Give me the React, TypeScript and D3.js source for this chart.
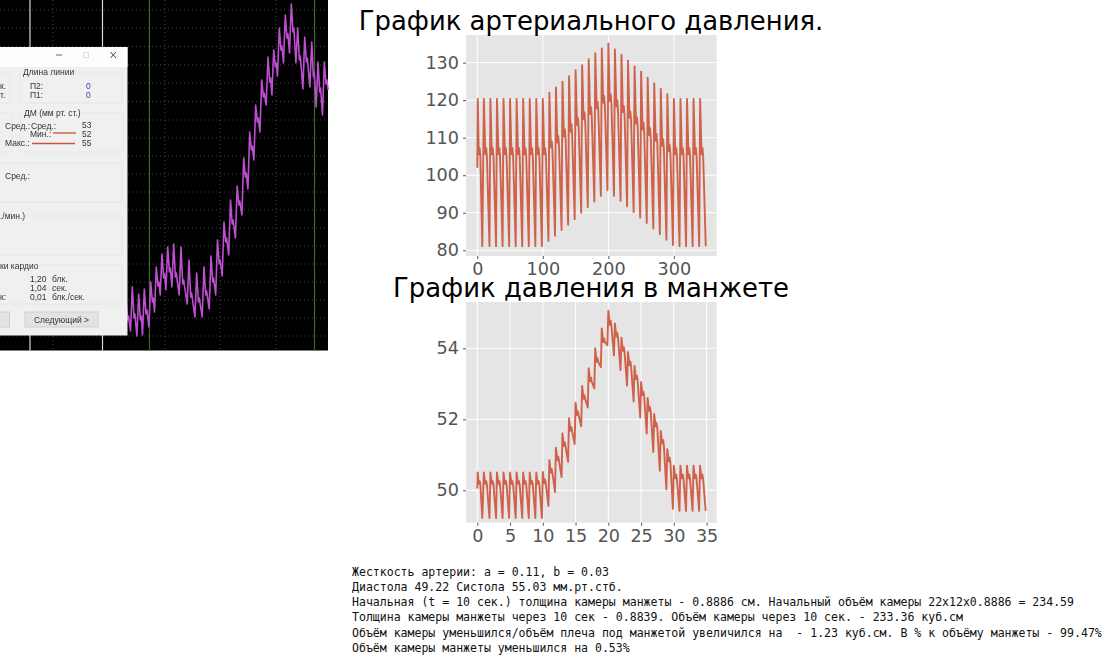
import React, { useEffect, useRef } from "react";
import * as d3 from "d3";

// ---------- Artery pressure chart (per-beat levels, one beat every 10 samples)
const arterySystole = [
  120.3, 120.3, 120.3, 120.3, 120.3, 120.3, 120.3, 120.3, 120.3, 120.3, 120.3, 122, 123.4, 124.9, 126.4, 128, 129.3,
  130.9, 132.5, 133.8, 135.1, 133.5, 132.1, 130.5, 129, 127.6, 126, 124.5, 123, 121.6, 120.3, 120.3, 120.3, 120.3, 120.3,
];
const arteryNotch = [
  105.6, 105.6, 105.6, 105.6, 105.6, 105.6, 105.6, 105.6, 105.6, 105.6, 105.6, 107.4, 108.7, 110.3, 111.6, 113.4, 114.9,
  116.3, 117.8, 119.3, 119.8, 118.3, 116.8, 115.3, 113.8, 112.2, 110.7, 109.2, 107.8, 106.4, 105.6, 105.6, 105.6, 105.6, 105.6,
];
const arteryBump = [
  107.2, 107.2, 107.2, 107.2, 107.2, 107.2, 107.2, 107.2, 107.2, 107.2, 107.2, 108.9, 110.4, 112.2, 113.6, 115.2, 116.7,
  118.1, 119.6, 121.1, 121.5, 120, 118.4, 116.9, 115.4, 114, 112.5, 111, 109.6, 108, 107.2, 107.2, 107.2, 107.2, 107.2,
];
const arteryDiastole = [
  81.1, 81.1, 81.1, 81.1, 81.1, 81.1, 81.1, 81.1, 81.1, 81.1, 82.5, 83.9, 85.4, 86.8, 88.3, 90, 91.5, 93, 94.5, 96,
  94.5, 93.2, 91.7, 90.2, 88.7, 87.3, 85.8, 84.3, 82.8, 81.4, 81.1, 81.1, 81.1, 81.1, 81.1,
];
const arteryStart = 102;
const arteryXTicks = [0, 100, 200, 300];
const arteryYTicks = [80, 90, 100, 110, 120, 130];

// ---------- Cuff pressure chart (one beat every second)
const cuffPeak = [
  50.5, 50.5, 50.5, 50.5, 50.5, 50.5, 50.5, 50.5, 50.5, 50.5, 50.52, 50.85, 51.2, 51.6, 52.03, 52.47, 52.94, 53.44, 54.0,
  54.56, 55.06, 54.7, 54.3, 53.9, 53.5, 53.05, 52.6, 52.15, 51.67, 51.16, 50.69, 50.69, 50.69, 50.69, 50.69,
];
const cuffNotch = [
  50.18, 50.18, 50.18, 50.18, 50.18, 50.18, 50.18, 50.18, 50.18, 50.18, 50.2, 50.5, 50.85, 51.25, 51.68, 52.12, 52.58,
  53.07, 53.62, 54.18, 54.66, 54.33, 53.93, 53.53, 53.13, 52.68, 52.24, 51.8, 51.32, 50.82, 50.34, 50.34, 50.34, 50.34, 50.34,
];
const cuffBump = [
  50.26, 50.26, 50.26, 50.26, 50.26, 50.26, 50.26, 50.26, 50.26, 50.26, 50.3, 50.6, 50.95, 51.35, 51.78, 52.22, 52.68,
  53.17, 53.72, 54.28, 54.78, 54.44, 54.03, 53.63, 53.23, 52.78, 52.34, 51.9, 51.42, 50.92, 50.44, 50.44, 50.44, 50.44, 50.44,
];
const cuffTrough = [
  49.22, 49.22, 49.22, 49.22, 49.22, 49.22, 49.22, 49.22, 49.22, 49.22, 49.56, 49.95, 50.37, 50.8, 51.3, 51.8, 52.33,
  52.87, 53.47, 54.09, 53.8, 53.39, 52.95, 52.5, 52.05, 51.6, 51.08, 50.55, 50.03, 49.48, 49.42, 49.42, 49.42, 49.42, 49.42,
];
const cuffStart = 50.05;
const cuffXTicks = [0, 5, 10, 15, 20, 25, 30, 35];
const cuffYTicks = [50, 52, 54];

// ---------- Pasted monitor screenshot: trace read per beat, in the screenshot's own pixel units
const traceBeatX = [
  126, 132.3, 138.7, 144.3, 150.7, 156.3, 162, 167.7, 173.7, 181, 189, 196.7, 204, 211, 217.5, 224, 230.5, 237.2, 243.7,
  249.7, 255.7, 261.7, 268, 273.7, 279.3, 285.3, 291.3, 297.7, 304.7, 311.7, 318, 324.3,
];
const tracePeak = [
  300, 286.7, 294, 289, 282, 267, 254, 247, 244, 247, 260, 273, 267, 256, 240, 222, 200, 186, 158, 132, 105, 80, 57, 50,
  28, 15, 4, 28, 37, 42, 62, 62,
];
const traceNotch = [
  318, 316, 318, 312, 300, 284, 276, 270, 275, 282, 295, 300, 293, 280, 262, 240, 222, 203, 175, 148, 120, 95, 80, 65,
  48, 36, 30, 58, 60, 75, 90, 82,
];
const traceTrough = [
  331, 336, 335, 327, 312, 295, 290, 287, 295, 304, 317, 317, 309, 295, 276, 255, 238, 215, 189, 160, 132, 105, 95, 76,
  63, 53, 63, 89, 87, 107, 115, 90,
];
const gridRowsY = [10, 28, 46.5, 65, 83, 101.5, 120, 138, 156, 174, 192, 210, 228, 246, 264, 282, 300, 318, 336];
const gridColsX = [53, 165, 220, 276];
const whiteColsX = [30, 102.5];
const greenColsX = [149.5, 314.5];

// ---------- Dialog texts
const dialogCaptions: [string, number, number][] = [
  ["Длина линии", 23, 75],
  ["ДМ (мм рт. ст.)", 24, 116],
  ["./мин.)", 0, 219],
  ["ки кардио", 0, 268.5],
];
const dialogLabels: [string, number, number][] = [
  ["П2:", 30, 88.5],
  ["П1:", 30, 97.5],
  ["к.", 0, 89],
  ["т.", 0, 97.5],
  ["Сред.:", 5, 128.5],
  ["Сред.:", 31, 128.5],
  ["Мин.:", 30, 137],
  ["Макс.:", 5, 146],
  ["53", 82, 128],
  ["52", 82, 137],
  ["55", 82, 146],
  ["Сред.:", 5, 179],
  ["1,20", 30, 282],
  ["блк.", 52, 282],
  ["1,04", 30, 291],
  ["сек.", 52, 291],
  ["к:", 0, 300],
  ["0,01", 30, 300],
  ["блк./сек.", 52, 300],
];
const dialogValuesBlue: [string, number, number][] = [
  ["0", 86, 88.5],
  ["0", 86, 97.5],
];
const dialogBoxes = [
  [-5, 72, 15, 31],
  [20, 72, 102, 31],
  [-5, 113, 17, 39],
  [20, 113, 103, 39],
  [-5, 163, 127, 39],
  [-5, 216, 127, 39],
  [-5, 265, 127, 39],
];

// ---------- Notes below the charts
const titleArtery = "График артериального давления.";
const titleCuff = "График давления в манжете";
const notes = [
  "Жесткость артерии: a = 0.11, b = 0.03",
  "Диастола 49.22 Систола 55.03 мм.рт.стб.",
  "Начальная (t = 10 сек.) толщина камеры манжеты - 0.8886 см. Начальный объём камеры 22x12x0.8886 = 234.59",
  "Толщина камеры манжеты через 10 сек - 0.8839. Объём камеры через 10 сек. - 233.36 куб.см",
  "Объём камеры уменьшился/объём плеча под манжетой увеличился на  - 1.23 куб.см. В % к объёму манжеты - 99.47%",
  "Объём камеры манжеты уменьшился на 0.53%",
];

const LINE = "#d0614a";
const SANS = "'DejaVu Sans', sans-serif";
const DLG_FONT = "'Liberation Sans', sans-serif";

type Pt = [number, number];

function beatSeries(start: number, period: number, peak: number[], notch: number[], bump: number[], low: number[]): Pt[] {
  const pts: Pt[] = [[0, start]];
  peak.forEach((p, k) => {
    const t = k * period;
    pts.push([k === 0 ? 0.07 * period : t, p]);
    pts.push([t + 0.22 * period, notch[k]]);
    pts.push([t + 0.36 * period, bump[k]]);
    pts.push([t + 0.47 * period, notch[k] - 0.02 * (peak[k] - low[k])]);
    pts.push([t + (k === 0 ? 0.76 : 0.86) * period, low[k]]);
  });
  return pts;
}

function drawPanel(
  root: d3.Selection<SVGGElement, unknown, null, undefined>,
  box: { left: number; right: number; top: number; bottom: number },
  x: d3.ScaleLinear<number, number>,
  y: d3.ScaleLinear<number, number>,
  xTicks: number[],
  yTicks: number[],
  series: Pt[],
) {
  const g = root.append("g");
  g.append("rect")
    .attr("x", box.left)
    .attr("y", box.top)
    .attr("width", box.right - box.left)
    .attr("height", box.bottom - box.top)
    .attr("fill", "#e5e5e5");
  xTicks.forEach((t) =>
    g.append("line").attr("x1", x(t)).attr("x2", x(t)).attr("y1", box.top).attr("y2", box.bottom).attr("stroke", "#fff").attr("stroke-width", 1),
  );
  yTicks.forEach((t) =>
    g.append("line").attr("x1", box.left).attr("x2", box.right).attr("y1", y(t)).attr("y2", y(t)).attr("stroke", "#fff").attr("stroke-width", 1),
  );
  const line = d3.line<Pt>().x((d) => x(d[0])).y((d) => y(d[1]));
  g.append("path").attr("d", line(series)).attr("fill", "none").attr("stroke", LINE).attr("stroke-width", 1.9).attr("stroke-linejoin", "round");

  const ax = g
    .append("g")
    .attr("transform", `translate(0,${box.bottom})`)
    .call(d3.axisBottom(x).tickValues(xTicks).tickFormat(d3.format("d")).tickSize(3).tickPadding(4));
  const ay = g
    .append("g")
    .attr("transform", `translate(${box.left},0)`)
    .call(d3.axisLeft(y).tickValues(yTicks).tickFormat(d3.format("d")).tickSize(3).tickPadding(4));
  [ax, ay].forEach((a) => {
    a.select(".domain").remove();
    a.selectAll("line").attr("stroke", "#555");
    a.selectAll("text").attr("fill", "#555").style("font-family", SANS).style("font-size", "17.6px");
  });
}

export default function App() {
  const ref = useRef<SVGSVGElement>(null);
  useEffect(() => {
    const svg = d3.select(ref.current!);
    svg.selectAll("*").remove();

    // blur for the pasted raster screenshot
    svg
      .append("defs")
      .append("filter")
      .attr("id", "soft")
      .attr("x", "-5%")
      .attr("y", "-5%")
      .attr("width", "110%")
      .attr("height", "110%")
      .append("feGaussianBlur")
      .attr("stdDeviation", 0.35);

    // ---- monitor screenshot
    const sx = d3.scaleLinear().domain([0, 328]).range([0, 328]);
    const sy = d3.scaleLinear().domain([0, 350.5]).range([0, 350.5]);
    const shot = svg.append("g").attr("filter", "url(#soft)");
    shot.append("rect").attr("x", sx(0)).attr("y", sy(0)).attr("width", sx(328)).attr("height", sy(350.5)).attr("fill", "#000");
    gridRowsY.forEach((v) =>
      shot.append("line").attr("x1", sx(0)).attr("x2", sx(328)).attr("y1", sy(v)).attr("y2", sy(v)).attr("stroke", "#5a5a5a").attr("stroke-width", 0.8).attr("stroke-dasharray", "1 3"),
    );
    gridColsX.forEach((v) =>
      shot.append("line").attr("x1", sx(v)).attr("x2", sx(v)).attr("y1", sy(0)).attr("y2", sy(350.5)).attr("stroke", "#5a5a5a").attr("stroke-width", 0.8).attr("stroke-dasharray", "1 3"),
    );
    whiteColsX.forEach((v) =>
      shot.append("line").attr("x1", sx(v)).attr("x2", sx(v)).attr("y1", sy(0)).attr("y2", sy(350.5)).attr("stroke", "#d8d8d8").attr("stroke-width", 1.2),
    );
    greenColsX.forEach((v) =>
      shot.append("line").attr("x1", sx(v)).attr("x2", sx(v)).attr("y1", sy(0)).attr("y2", sy(350.5)).attr("stroke", "#3f6b2c").attr("stroke-width", 1.2),
    );
    const tracePts: Pt[] = [];
    traceBeatX.forEach((bx, k) => {
      const nextX = k + 1 < traceBeatX.length ? traceBeatX[k + 1] : 330;
      tracePts.push([bx, tracePeak[k]]);
      tracePts.push([bx + 1.7, traceNotch[k] + 2]);
      tracePts.push([bx + 2.6, traceNotch[k] - 2]);
      tracePts.push([nextX - 1.8, traceTrough[k]]);
    });
    const traceLine = d3.line<Pt>().x((d) => sx(d[0])).y((d) => sy(d[1]));
    shot.append("path").attr("d", traceLine(tracePts)).attr("fill", "none").attr("stroke", "#bd4fd0").attr("stroke-width", 1.6).attr("stroke-linejoin", "round");

    // ---- dialog
    const dlg = shot.append("g");
    dlg.append("rect").attr("x", sx(0)).attr("y", sy(47)).attr("width", sx(127.5)).attr("height", sy(288.5)).attr("fill", "#f0f0f0");
    dlg.append("rect").attr("x", sx(0)).attr("y", sy(47)).attr("width", sx(127.5)).attr("height", sy(20)).attr("fill", "#fdfdfd");
    dialogBoxes.forEach(([bx, by, bw, bh]) =>
      dlg.append("rect").attr("x", sx(bx)).attr("y", sy(by)).attr("width", bw).attr("height", bh).attr("fill", "none").attr("stroke", "#e6e6e6").attr("stroke-width", 1),
    );
    // window buttons
    dlg.append("line").attr("x1", 56).attr("x2", 62).attr("y1", 55).attr("y2", 55).attr("stroke", "#666").attr("stroke-width", 1);
    dlg.append("rect").attr("x", 83.5).attr("y", 52.5).attr("width", 5).attr("height", 5).attr("fill", "none").attr("stroke", "#ddd").attr("stroke-width", 1);
    dlg.append("path").attr("d", "M110.5,52 L116,58 M116,52 L110.5,58").attr("stroke", "#444").attr("stroke-width", 1).attr("fill", "none");
    const addText = (t: string, x0: number, y0: number, fill: string) =>
      dlg.append("text").attr("x", x0).attr("y", y0).attr("fill", fill).style("font-family", DLG_FONT).style("font-size", "8.5px").text(t);
    dialogCaptions.forEach(([t, x0, y0]) =>
      addText(t, x0, y0, "#333").attr("stroke", "#f0f0f0").attr("stroke-width", 3).style("paint-order", "stroke"),
    );
    dialogLabels.forEach(([t, x0, y0]) => addText(t, x0, y0, "#333"));
    dialogValuesBlue.forEach(([t, x0, y0]) => addText(t, x0, y0, "#3a3ab0"));
    dlg.append("line").attr("x1", 53).attr("x2", 76).attr("y1", 133).attr("y2", 133).attr("stroke", "#c8553a").attr("stroke-width", 1.3);
    dlg.append("line").attr("x1", 32).attr("x2", 75).attr("y1", 143.5).attr("y2", 143.5).attr("stroke", "#c8553a").attr("stroke-width", 1.3);
    dlg.append("rect").attr("x", -5).attr("y", 312).attr("width", 14.5).attr("height", 15).attr("fill", "#e3e3e3").attr("stroke", "#cfcfcf");
    dlg.append("rect").attr("x", 25).attr("y", 312).attr("width", 73).attr("height", 15).attr("fill", "#e3e3e3").attr("stroke", "#cfcfcf");
    dlg.append("text").attr("x", 61.5).attr("y", 322.5).attr("text-anchor", "middle").attr("fill", "#333").style("font-family", DLG_FONT).style("font-size", "8.5px").text("Следующий >");

    // ---- charts
    const root = svg.append("g");
    const box1 = { left: 466, right: 716.7, top: 35, bottom: 256 };
    const x1 = d3.scaleLinear().domain([0, 300]).range([477.3, 673.9]);
    const y1 = d3.scaleLinear().domain([80, 130]).range([250.3, 62.6]);
    drawPanel(root, box1, x1, y1, arteryXTicks, arteryYTicks, beatSeries(arteryStart, 10, arterySystole, arteryNotch, arteryBump, arteryDiastole));

    const box2 = { left: 466, right: 716.7, top: 302, bottom: 522.7 };
    const x2 = d3.scaleLinear().domain([0, 35]).range([477.3, 706.6]);
    const y2 = d3.scaleLinear().domain([50, 54]).range([490.3, 348.3]);
    drawPanel(root, box2, x2, y2, cuffXTicks, cuffYTicks, beatSeries(cuffStart, 1, cuffPeak, cuffNotch, cuffBump, cuffTrough));

    root.append("text").attr("x", 591).attr("y", 30).attr("text-anchor", "middle").attr("fill", "#000").style("font-family", SANS).style("font-size", "25.9px").text(titleArtery);
    root.append("text").attr("x", 591).attr("y", 297).attr("text-anchor", "middle").attr("fill", "#000").style("font-family", SANS).style("font-size", "25.9px").text(titleCuff);

    notes.forEach((n, i) => {
      root
        .append("text")
        .attr("x", 352)
        .attr("y", 575.5 + i * 15.3)
        .attr("fill", "#111")
        .style("white-space", "pre")
        .style("font-family", "'DejaVu Sans Mono', monospace")
        .style("font-size", "11.54px")
        .text(n);
    });
  }, []);
  return <svg ref={ref} width={1108} height={659} style={{ position: "absolute", left: 0, top: 0, background: "#fff" }} />;
}
